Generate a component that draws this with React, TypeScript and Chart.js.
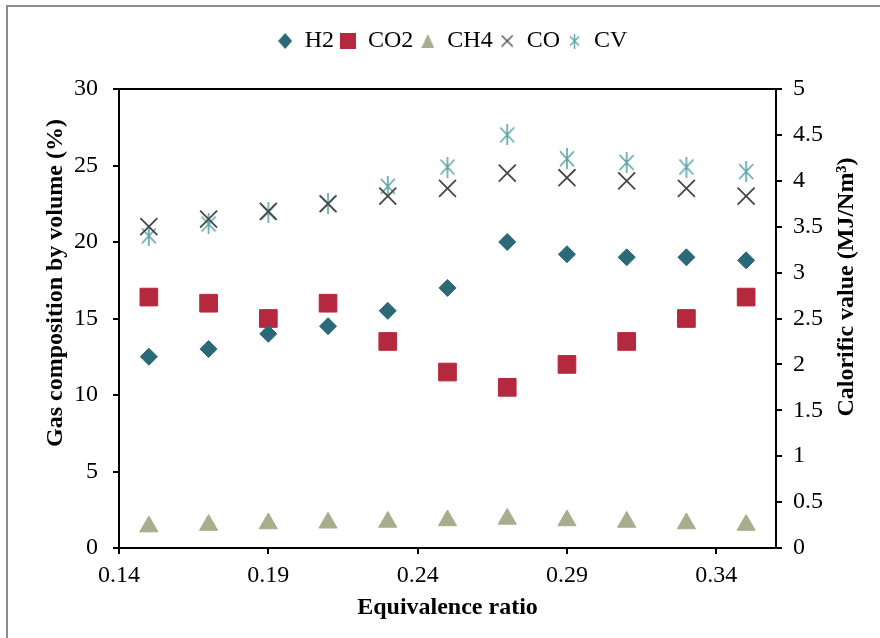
import React, { useEffect, useRef } from "react";
import { Chart, registerables } from "chart.js";

Chart.register(...registerables);

// ---- data ----
const equivalenceRatio = [0.15, 0.17, 0.19, 0.21, 0.23, 0.25, 0.27, 0.29, 0.31, 0.33, 0.35];
const h2Values = [12.5, 13.0, 14.0, 14.5, 15.5, 17.0, 20.0, 19.2, 19.0, 19.0, 18.8];
const co2Values = [16.4, 16.0, 15.0, 16.0, 13.5, 11.5, 10.5, 12.0, 13.5, 15.0, 16.4];
const ch4Values = [1.4, 1.5, 1.6, 1.65, 1.7, 1.8, 1.9, 1.8, 1.7, 1.6, 1.5];
const coValues = [21.0, 21.5, 22.0, 22.5, 23.0, 23.5, 24.5, 24.2, 24.0, 23.5, 23.0];
const cvValues = [3.4, 3.53, 3.66, 3.75, 3.94, 4.15, 4.5, 4.24, 4.2, 4.15, 4.1];

const xTickValues = [0.14, 0.19, 0.24, 0.29, 0.34];
const leftTickValues = [0, 5, 10, 15, 20, 25, 30];
const rightTickValues = [0, 0.5, 1, 1.5, 2, 2.5, 3, 3.5, 4, 4.5, 5];
const seriesNames = ["H2", "CO2", "CH4", "CO", "CV"];

const xTitle = "Equivalence ratio";
const leftTitle = "Gas composition by volume (%)";
const rightTitle = "Calorific value (MJ/Nm\u00B3)";

const FONT = '"Liberation Serif", "Times New Roman", serif';
const COLORS = ["#2B6878", "#B6283E", "#A8AD8D", "#474747", "#5EA2A8"];

function makeMarker(kind: string, w: number, h: number, color: string, lw: number) {
  const c = document.createElement("canvas");
  c.width = w;
  c.height = h;
  const g = c.getContext("2d")!;
  g.fillStyle = color;
  g.strokeStyle = color;
  g.lineWidth = lw;
  g.lineCap = "butt";
  const mx = w / 2;
  const my = h / 2;
  g.beginPath();
  if (kind === "diamond") {
    g.moveTo(mx, 0);
    g.lineTo(w, my);
    g.lineTo(mx, h);
    g.lineTo(0, my);
    g.closePath();
    g.fill();
  } else if (kind === "square") {
    g.fillRect(0, 0, w, h);
  } else if (kind === "triangle") {
    g.moveTo(mx, 0);
    g.lineTo(w, h);
    g.lineTo(0, h);
    g.closePath();
    g.fill();
  } else if (kind === "x") {
    g.moveTo(1, 1);
    g.lineTo(w - 1, h - 1);
    g.moveTo(w - 1, 1);
    g.lineTo(1, h - 1);
    g.stroke();
  } else if (kind === "star") {
    const p = 2;
    g.moveTo(p, p + 1);
    g.lineTo(w - p, h - p - 1);
    g.moveTo(w - p, p + 1);
    g.lineTo(p, h - p - 1);
    g.moveTo(mx, 0);
    g.lineTo(mx, h);
    g.stroke();
  }
  return c;
}

export default function App() {
  const ref = useRef<HTMLCanvasElement | null>(null);

  useEffect(() => {
    document.body.style.margin = "0";
    const canvas = ref.current;
    if (!canvas) return;

    const cvPoint = makeMarker("star", 18, 21, COLORS[4], 1.6);
    const legendMarkers = [
      makeMarker("diamond", 14, 16, COLORS[0], 1),
      makeMarker("square", 16, 16, COLORS[1], 1),
      makeMarker("triangle", 13, 14, COLORS[2], 1),
      makeMarker("x", 13, 13, COLORS[3], 1.4),
      makeMarker("star", 13, 15, COLORS[4], 1.4),
    ];

    const pts = (ys: number[]) => equivalenceRatio.map((x, i) => ({ x, y: ys[i] }));

    const legendGap = {
      id: "legendGap",
      beforeInit(chart: any) {
        const lg = chart.legend;
        if (!lg) return;
        const orig = lg.fit;
        lg.fit = function () {
          orig.call(this);
          this.height += 26;
        };
      },
    };

    const framePlugin = {
      id: "frame",
      beforeDraw(chart: any) {
        const { ctx, width, height } = chart;
        ctx.save();
        ctx.fillStyle = "#ffffff";
        ctx.fillRect(0, 0, width, height);
        ctx.strokeStyle = "#8c8c8c";
        ctx.lineWidth = 2;
        ctx.beginPath();
        ctx.moveTo(7, height);
        ctx.lineTo(7, 6);
        ctx.lineTo(width, 6);
        ctx.stroke();
        ctx.restore();
      },
      beforeDatasetsDraw(chart: any) {
        const { ctx, chartArea: a } = chart;
        ctx.save();
        ctx.strokeStyle = "#000";
        ctx.lineWidth = 2;
        ctx.strokeRect(a.left, a.top, a.right - a.left, a.bottom - a.top);
        ctx.restore();
      },
      afterDraw(chart: any) {
        const { ctx } = chart;
        ctx.save();
        ctx.font = `bold 24px ${FONT}`;
        ctx.fillStyle = "#000";
        ctx.textAlign = "center";
        ctx.textBaseline = "middle";
        ctx.translate(56, 283);
        ctx.rotate(-Math.PI / 2);
        ctx.fillText(leftTitle, 0, 0);
        ctx.restore();
        ctx.save();
        ctx.font = `bold 24px ${FONT}`;
        ctx.fillStyle = "#000";
        ctx.textAlign = "center";
        ctx.textBaseline = "middle";
        ctx.translate(847, 287);
        ctx.rotate(-Math.PI / 2);
        ctx.fillText(rightTitle, 0, 0);
        ctx.restore();
      },
    };

    const tickGrid = {
      display: true,
      drawOnChartArea: false,
      drawTicks: true,
      tickLength: 6,
      color: "#000",
      lineWidth: 2,
    };
    const border = { display: true, color: "#000", width: 2 };
    const tickFont = { family: FONT, size: 24 };

    const chart = new Chart(canvas, {
      type: "scatter",
      data: {
        datasets: [
          {
            label: seriesNames[0],
            data: pts(h2Values),
            yAxisID: "y",
            pointStyle: "rectRot",
            pointRadius: 8.5,
            backgroundColor: COLORS[0],
            borderColor: COLORS[0],
            borderWidth: 1,
          },
          {
            label: seriesNames[1],
            data: pts(co2Values),
            yAxisID: "y",
            pointStyle: "rect",
            pointRadius: 12.5,
            backgroundColor: COLORS[1],
            borderColor: COLORS[1],
            borderWidth: 1,
          },
          {
            label: seriesNames[2],
            data: pts(ch4Values),
            yAxisID: "y",
            pointStyle: "triangle",
            pointRadius: 10.5,
            backgroundColor: COLORS[2],
            borderColor: COLORS[2],
            borderWidth: 1,
          },
          {
            label: seriesNames[3],
            data: pts(coValues),
            yAxisID: "y",
            pointStyle: "crossRot",
            pointRadius: 12,
            backgroundColor: COLORS[3],
            borderColor: COLORS[3],
            borderWidth: 1.8,
          },
          {
            label: seriesNames[4],
            data: pts(cvValues),
            yAxisID: "y1",
            pointStyle: cvPoint as any,
            pointRadius: 10,
            backgroundColor: COLORS[4],
            borderColor: COLORS[4],
            borderWidth: 1.6,
          },
        ],
      },
      options: {
        responsive: false,
        animation: false,
        events: [],
        layout: { padding: { top: 22, left: 25, right: 0, bottom: 0 } },
        plugins: {
          tooltip: { enabled: false },
          legend: {
            position: "top",
            align: "center",
            labels: {
              usePointStyle: true,
              boxWidth: 15,
              boxHeight: 15,
              padding: 7,
              color: "#000",
              font: { family: FONT, size: 24 },
              generateLabels: () =>
                seriesNames.map((name, i) => ({
                  text: name,
                  pointStyle: legendMarkers[i] as any,
                  fillStyle: COLORS[i],
                  strokeStyle: COLORS[i],
                  lineWidth: 0,
                  hidden: false,
                  datasetIndex: i,
                  fontColor: "#000",
                })),
            },
          },
        },
        scales: {
          x: {
            type: "linear",
            position: "bottom",
            min: 0.14,
            max: 0.36,
            afterBuildTicks: (s: any) => {
              s.ticks = xTickValues.map((value) => ({ value }));
            },
            afterFit: (s: any) => {
              s.height = 90;
            },
            ticks: {
              callback: (v: any) => Number(v).toFixed(2),
              color: "#000",
              font: tickFont,
              padding: 7,
              maxRotation: 0,
              autoSkip: false,
            },
            grid: tickGrid,
            border,
            title: {
              display: true,
              text: xTitle,
              color: "#000",
              font: { family: FONT, size: 24, weight: "bold" },
              padding: { top: 0, bottom: 16 },
            },
          },
          y: {
            type: "linear",
            position: "left",
            min: 0,
            max: 30,
            afterBuildTicks: (s: any) => {
              s.ticks = leftTickValues.map((value) => ({ value }));
            },
            afterFit: (s: any) => {
              s.width = 94;
            },
            ticks: {
              callback: (v: any) => String(v),
              color: "#000",
              font: tickFont,
              padding: 15,
            },
            grid: tickGrid,
            border,
          },
          y1: {
            type: "linear",
            position: "right",
            min: 0,
            max: 5,
            afterBuildTicks: (s: any) => {
              s.ticks = rightTickValues.map((value) => ({ value }));
            },
            afterFit: (s: any) => {
              s.width = 104;
            },
            ticks: {
              callback: (v: any) => String(v),
              color: "#000",
              font: tickFont,
              padding: 11,
            },
            grid: tickGrid,
            border,
          },
        },
      } as any,
      plugins: [legendGap, framePlugin],
    });

    return () => chart.destroy();
  }, []);

  return (
    <div style={{ width: 880, height: 638 }}>
      <canvas ref={ref} width={880} height={638} style={{ display: "block", width: 880, height: 638 }} />
    </div>
  );
}
